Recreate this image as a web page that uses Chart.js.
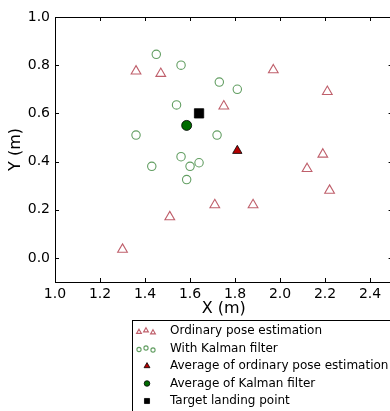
<!DOCTYPE html>
<html>
<head>
<meta charset="utf-8">
<script src="https://cdn.jsdelivr.net/npm/chart.js@4.4.0/dist/chart.umd.min.js"></script>
<style>
  html, body { margin: 0; padding: 0; background: #fff; overflow: hidden; width: 390px; height: 411px; }
  canvas { display: block; }
</style>
</head>
<body>
<canvas id="c" width="400" height="411"></canvas>
<script>
// ---- data ----
const ordinaryX = [1.36, 1.47, 1.97, 2.21, 1.75, 2.19, 2.12, 2.22, 1.71, 1.88, 1.51, 1.30];
const ordinaryY = [0.775, 0.765, 0.78, 0.69, 0.63, 0.43, 0.37, 0.28, 0.22, 0.22, 0.17, 0.035];
const kalmanX = [1.45, 1.56, 1.54, 1.36, 1.73, 1.81, 1.72, 1.43, 1.56, 1.60, 1.585, 1.64];
const kalmanY = [0.845, 0.80, 0.635, 0.51, 0.73, 0.70, 0.51, 0.38, 0.42, 0.38, 0.325, 0.395];
const avgOrdinary = [1.81, 0.445];
const avgKalman = [1.585, 0.55];
const targetPoint = [1.64, 0.60];
const seriesLabels = ["Ordinary pose estimation", "With Kalman filter",
  "Average of ordinary pose estimation", "Average of Kalman filter", "Target landing point"];
const xTicks = [1.0, 1.2, 1.4, 1.6, 1.8, 2.0, 2.2, 2.4];
const yTicks = [0.0, 0.2, 0.4, 0.6, 0.8, 1.0];
const xRange = [1.0, 2.5];
const yRange = [-0.1, 1.0];
const axisTitles = ["X (m)", "Y (m)"];

Chart.defaults.font.family = "'DejaVu Sans', sans-serif";
Chart.defaults.color = "#000";

const pts = (xs, ys) => xs.map((x, i) => ({x: x, y: ys[i]}));

const frameTicks = {
  id: 'frameTicks',
  afterDatasetsDraw(chart) {
    const {ctx, chartArea: a, scales} = chart;
    ctx.save();
    ctx.strokeStyle = '#000';
    ctx.lineWidth = 1;
    ctx.beginPath();
    scales.x.ticks.forEach(t => {
      const p = Math.round(scales.x.getPixelForValue(t.value)) + 0.5;
      ctx.moveTo(p, a.bottom); ctx.lineTo(p, a.bottom - 4);
      ctx.moveTo(p, a.top); ctx.lineTo(p, a.top + 4);
    });
    scales.y.ticks.forEach(t => {
      const p = Math.round(scales.y.getPixelForValue(t.value)) + 0.5;
      ctx.moveTo(a.left, p); ctx.lineTo(a.left + 4, p);
      ctx.moveTo(a.right, p); ctx.lineTo(a.right - 4, p);
    });
    ctx.stroke();
    ctx.strokeRect(Math.round(a.left) + 0.5, Math.round(a.top) + 0.5,
      Math.round(a.right - a.left), Math.round(a.bottom - a.top));
    ctx.restore();
  }
};

const boxLegend = {
  id: 'boxLegend',
  afterDraw(chart) {
    const ctx = chart.ctx;
    const boxL = 132, boxT = 320;
    ctx.save();
    ctx.strokeStyle = '#000';
    ctx.lineWidth = 1;
    ctx.strokeRect(boxL + 0.5, boxT + 0.5, 280, 110);
    const rowY = [331, 348.5, 366, 383.5, 401];
    const textX = 170;
    ctx.font = "12px 'DejaVu Sans', sans-serif";
    ctx.fillStyle = '#000';
    ctx.textBaseline = 'middle';
    ctx.textAlign = 'left';
    const offs = [1, -0.5, 1.5];
    chart.data.datasets.forEach((ds, i) => {
      const y = rowY[i];
      const style = {
        pointStyle: ds.pointStyle,
        rotation: 0,
        borderWidth: ds.borderWidth
      };
      ctx.fillStyle = ds.backgroundColor;
      ctx.strokeStyle = ds.borderColor;
      ctx.lineWidth = ds.borderWidth;
      if (i < 2) {
        [139, 146, 153].forEach((x, k) => {
          Chart.helpers.drawPoint(ctx, Object.assign({}, style, {radius: i === 0 ? 2.8 : 2.1}), x, y + offs[k]);
        });
      } else {
        const r = i === 2 ? 3.4 : (i === 3 ? 2.8 : 3.6);
        Chart.helpers.drawPoint(ctx, Object.assign({}, style, {radius: r}), 147, y);
      }
      ctx.fillStyle = '#000';
      ctx.fillText(ds.label, textX, y);
    });
    ctx.restore();
  }
};

new Chart(document.getElementById('c'), {
  type: 'scatter',
  data: {
    datasets: [
      { label: seriesLabels[0], data: pts(ordinaryX, ordinaryY), pointStyle: 'triangle',
        pointRadius: 5.6, backgroundColor: 'rgba(255,255,255,0)', borderColor: 'rgba(175,55,70,0.8)', borderWidth: 1.1 },
      { label: seriesLabels[1], data: pts(kalmanX, kalmanY), pointStyle: 'circle',
        pointRadius: 4.2, backgroundColor: 'rgba(255,255,255,0)', borderColor: 'rgba(45,125,45,0.75)', borderWidth: 1.1 },
      { label: seriesLabels[2], data: [{x: avgOrdinary[0], y: avgOrdinary[1]}], pointStyle: 'triangle',
        pointRadius: 5.4, backgroundColor: '#b50000', borderColor: '#000', borderWidth: 0.8 },
      { label: seriesLabels[3], data: [{x: avgKalman[0], y: avgKalman[1]}], pointStyle: 'circle',
        pointRadius: 5, backgroundColor: '#006b00', borderColor: '#000', borderWidth: 0.8 },
      { label: seriesLabels[4], data: [{x: targetPoint[0], y: targetPoint[1]}], pointStyle: 'rect',
        pointRadius: 6.6, backgroundColor: '#000', borderColor: '#000', borderWidth: 0.8 }
    ]
  },
  options: {
    responsive: false,
    animation: false,
    devicePixelRatio: 1,
    layout: { padding: { left: 0, top: 17, right: 4, bottom: 93 } },
    plugins: { legend: { display: false }, tooltip: { enabled: false } },
    scales: {
      x: {
        type: 'linear', min: xRange[0], max: xRange[1],
        grid: { display: false, drawTicks: false },
        border: { display: false },
        afterBuildTicks: s => { s.ticks = xTicks.map(v => ({value: v})); },
        afterFit: s => { s.height = 36; },
        ticks: { font: { size: 14 }, color: '#000', padding: 4, maxRotation: 0,
          callback: v => Number(v).toFixed(1) },
        title: { display: true, text: axisTitles[0], font: { size: 16 }, color: '#000', padding: { top: 0, bottom: 0 } }
      },
      y: {
        type: 'linear', min: yRange[0], max: yRange[1],
        grid: { display: false, drawTicks: false },
        border: { display: false },
        afterBuildTicks: s => { s.ticks = yTicks.map(v => ({value: v})); },
        afterFit: s => { s.width = 55; },
        ticks: { font: { size: 14 }, color: '#000', padding: 5,
          callback: v => Number(v).toFixed(1) },
        title: { display: true, text: axisTitles[1], font: { size: 16 }, color: '#000', padding: { top: 6, bottom: 0 } }
      }
    }
  },
  plugins: [frameTicks, boxLegend]
});
</script>
</body>
</html>
